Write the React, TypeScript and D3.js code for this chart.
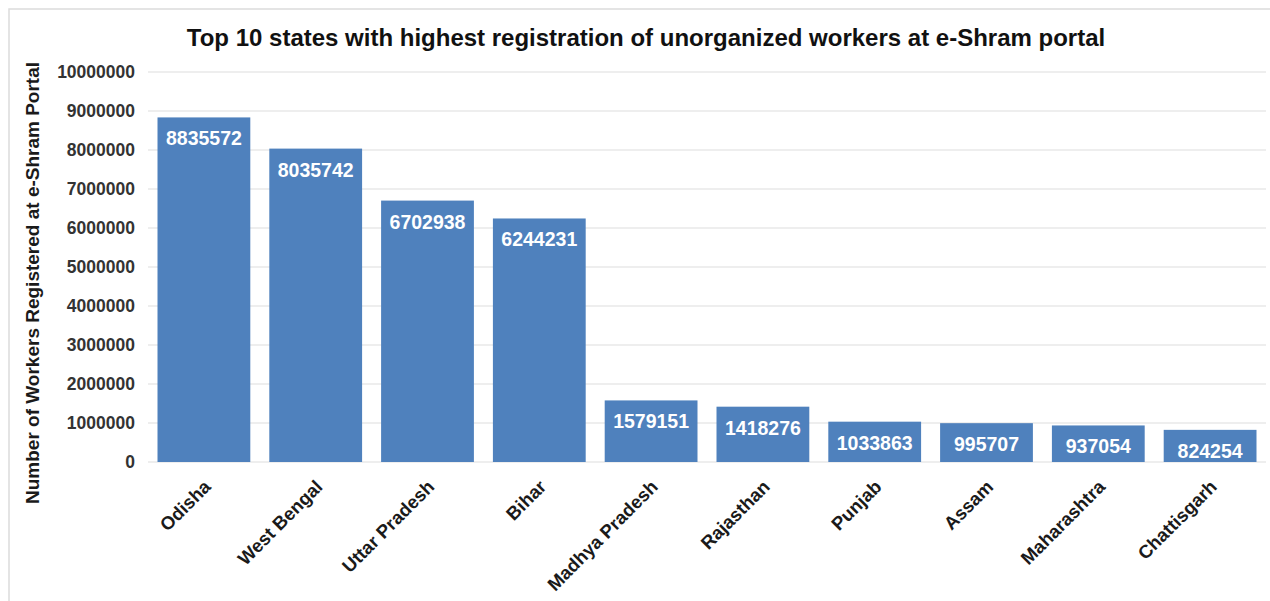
import React, { useRef, useEffect } from 'react';
import { select, scaleBand, scaleLinear, axisLeft, range } from 'd3';

const states = ['Odisha', 'West Bengal', 'Uttar Pradesh', 'Bihar', 'Madhya Pradesh', 'Rajasthan', 'Punjab', 'Assam', 'Maharashtra', 'Chattisgarh'];
const workers = [8835572, 8035742, 6702938, 6244231, 1579151, 1418276, 1033863, 995707, 937054, 824254];
const yTicks = range(0, 10000001, 1000000);

const W = 1270;
const H = 601;
const FONT = '"Liberation Sans", Arial, sans-serif';

const App = () => {
   const svgRef = useRef<SVGSVGElement>(null);

   useEffect(() => {
      const svg = select(svgRef.current);
      svg.selectAll('*').remove();

      const x = scaleBand<string>()
         .domain(states)
         .range([148, 1266])
         .paddingInner(0.17)
         .paddingOuter(0.085);

      const y = scaleLinear()
         .domain([0, 10000000])
         .range([462, 72]);

      // outer frame
      svg.append('rect')
         .attr('x', 9).attr('y', 9)
         .attr('width', W).attr('height', H)
         .attr('fill', '#fff')
         .attr('stroke', '#dcdcdc')
         .attr('stroke-width', 1.5);

      // gridlines
      svg.append('g')
         .selectAll('line')
         .data(yTicks)
         .join('line')
         .attr('x1', 148).attr('x2', 1266)
         .attr('y1', d => y(d)).attr('y2', d => y(d))
         .attr('stroke', '#e9e9e9')
         .attr('stroke-width', 1.5);

      // y axis labels
      const yAxis = axisLeft(y).tickValues(yTicks).tickSize(0).tickPadding(0).tickFormat(d => String(d));
      const gy = svg.append('g').attr('transform', 'translate(135,0)').call(yAxis);
      gy.select('.domain').remove();
      gy.selectAll('text')
         .attr('font-family', FONT)
         .attr('font-size', 17.5)
         .attr('font-weight', 'bold')
         .attr('fill', '#333');

      // bars
      svg.append('g')
         .selectAll('rect')
         .data(workers)
         .join('rect')
         .attr('x', (d, i) => x(states[i])!)
         .attr('y', d => y(d))
         .attr('width', x.bandwidth())
         .attr('height', d => y(0) - y(d))
         .attr('fill', '#4F81BD');

      // value labels
      svg.append('g')
         .selectAll('text')
         .data(workers)
         .join('text')
         .attr('x', (d, i) => x(states[i])! + x.bandwidth() / 2)
         .attr('y', d => y(d) + 28)
         .attr('text-anchor', 'middle')
         .attr('font-family', FONT)
         .attr('font-size', 19.5)
         .attr('font-weight', 'bold')
         .attr('fill', '#fff')
         .text(d => d);

      // category labels, rotated
      svg.append('g')
         .selectAll('text')
         .data(states)
         .join('text')
         .attr('transform', d => `translate(${x(d)! + x.bandwidth() / 2 + 8},488) rotate(-45)`)
         .attr('text-anchor', 'end')
         .attr('font-family', FONT)
         .attr('font-size', 18.5)
         .attr('font-weight', 'bold')
         .attr('fill', '#1a1a1a')
         .text(d => d);

      // axis title
      svg.append('text')
         .attr('transform', 'translate(39,283) rotate(-90)')
         .attr('text-anchor', 'middle')
         .attr('font-family', FONT)
         .attr('font-size', 19)
         .attr('font-weight', 'bold')
         .attr('fill', '#1a1a1a')
         .text('Number of Workers Registered at e-Shram Portal');

      // chart title
      svg.append('text')
         .attr('x', 646).attr('y', 46)
         .attr('text-anchor', 'middle')
         .attr('font-family', FONT)
         .attr('font-size', 24)
         .attr('font-weight', 'bold')
         .attr('fill', '#111')
         .text('Top 10 states with highest registration of unorganized workers at e-Shram portal');
   }, []);

   return (
      <svg ref={svgRef} width={W} height={H} style={{ position: 'absolute', left: 0, top: 0, background: '#fff' }} />
   );
};

export default App;
